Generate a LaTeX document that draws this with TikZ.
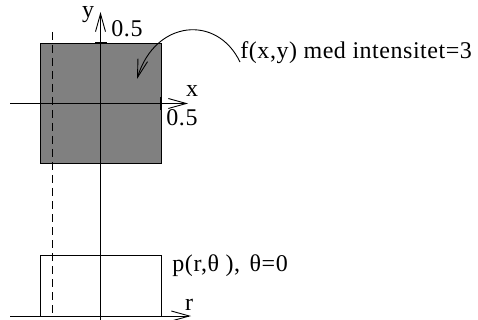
\documentclass[tikz,border=0pt]{standalone}
\usepackage{fontspec}
\setmainfont[LetterSpace=2.2]{Liberation Serif}
\usetikzlibrary{arrows.meta}
\begin{document}
\begin{tikzpicture}[x=1pt,y=-1pt,
  line width=0.9pt,
  ax/.style={-{Straight Barb[length=18pt,width=10pt,line width=0.9pt]}},
  lbl/.style={font=\fontsize{24}{29}\selectfont,inner sep=0pt},
  tick/.style={line width=2.4pt}]
\useasboundingbox (0,0) rectangle (478,320);
% gray square
\node[draw,fill=black!50,minimum width=121pt,minimum height=120pt,inner sep=0pt,line width=0.9pt] (sq) at (100.5,103) {};
% lower rectangle
\coordinate (rbl) at (40,316);
\coordinate (rtl) at (40,255);
\coordinate (rtr) at (161,255);
\coordinate (rbr) at (161,316);
\draw (rbl) -- (rtl) -- (rtr) -- (rbr);
% dashed line
\coordinate (d1) at (52,32);
\coordinate (d2) at (52,316);
\draw[dash pattern=on 8pt off 5pt] (d1) -- (d2);
% axes
\coordinate (xs) at (10,103.5);
\coordinate (xe) at (188,103.5);
\draw[ax] (xs) -- (xe);
\coordinate (ys) at (100.5,320);
\coordinate (ye) at (100.5,12);
\draw[ax] (ys) -- (ye);
\coordinate (rs) at (10,316);
\coordinate (re) at (191,316);
\draw[ax] (rs) -- (re);
% ticks
\coordinate (t1a) at (95,43);
\coordinate (t1b) at (106.5,43);
\draw[tick] (t1a) -- (t1b);
\coordinate (t2a) at (161,97);
\coordinate (t2b) at (161,110);
\draw[tick] (t2a) -- (t2b);
% labels
\node[lbl,anchor=base] (ly) at (88,18) {y};
\node[lbl,anchor=base west] (l05a) at (111,37) {0.5};
\node[lbl,anchor=base] (lx) at (192,97) {x};
\node[lbl,anchor=base west] (l05b) at (166,126) {0.5};
\node[lbl,anchor=base west] (lf) at (240,59) {f(x,y) med intensitet=3};
\node[lbl,anchor=base west] (lp) at (172,271) {p(r,θ ),\hspace{0.4em}θ=0};
\node[lbl,anchor=base] (lr) at (189,310) {r};
% curved pointer
\coordinate (cs) at (240,62);
\coordinate (ce) at (137,79);
\draw[ax] (cs) .. controls (217,14) and (155,20) .. (ce);
\end{tikzpicture}
\end{document}
